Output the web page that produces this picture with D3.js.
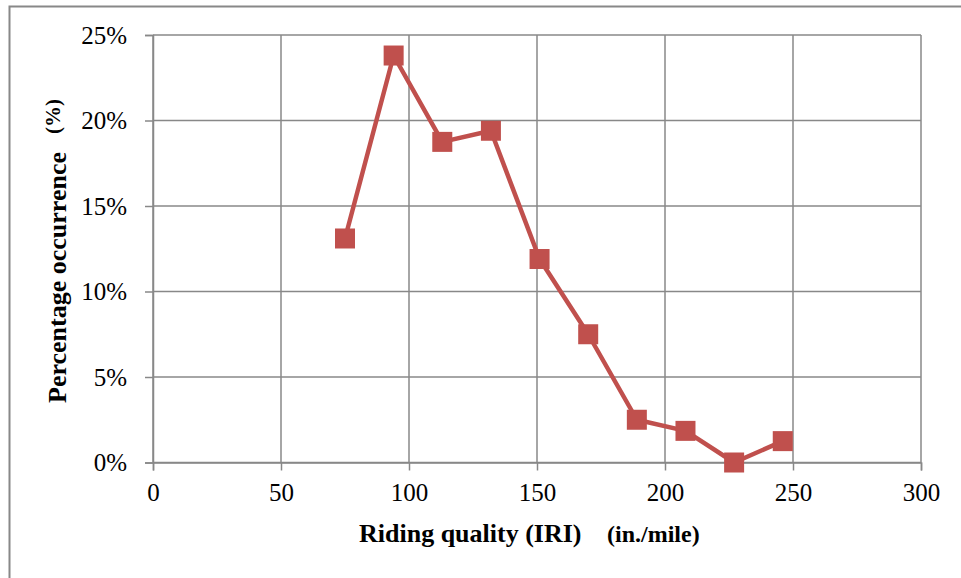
<!DOCTYPE html>
<html>
<head>
<meta charset="utf-8">
<script src="https://cdn.jsdelivr.net/npm/d3@7/dist/d3.min.js"></script>
<style>
  html, body { margin: 0; padding: 0; background: #fff; }
  svg { display: block; }
</style>
</head>
<body>
<svg id="chart" width="961" height="578"></svg>
<script>
// Data
const iri = [75, 94, 113, 132, 151, 170, 189, 208, 227, 246];
const occurrence = [13.1, 23.8, 18.75, 19.4, 11.9, 7.5, 2.5, 1.85, 0, 1.25];
const xTicks = [0, 50, 100, 150, 200, 250, 300];
const yTicks = [0, 5, 10, 15, 20, 25];
const xTitle = "Riding quality (IRI)";
const xUnit = "(in./mile)";
const yTitle = "Percentage occurrence";
const yUnit = "(%)";

(function () {
const svg = d3.select("#chart");
const pLeft = 153, pRight = 921, pTop = 35, pBottom = 462.5;
const serif = "'Liberation Serif', 'Times New Roman', serif";
const gridColor = "#888888";
const seriesColor = "#C0504D";

// outer border (only top/left visible in reference)
svg.append("rect")
  .attr("x", 9.5).attr("y", 6.5)
  .attr("width", 1000).attr("height", 700)
  .attr("fill", "none").attr("stroke", gridColor).attr("stroke-width", 2);

const x = d3.scaleLinear().domain([0, 300]).range([pLeft, pRight]);
const y = d3.scaleLinear().domain([0, 25]).range([pBottom, pTop]);

// gridlines
svg.append("g").selectAll("line").data(yTicks).join("line")
  .attr("x1", pLeft).attr("x2", pRight)
  .attr("y1", d => y(d)).attr("y2", d => y(d))
  .attr("stroke", gridColor).attr("stroke-width", 1.5);
svg.append("g").selectAll("line").data(xTicks).join("line")
  .attr("x1", d => x(d)).attr("x2", d => x(d))
  .attr("y1", pTop).attr("y2", pBottom)
  .attr("stroke", gridColor).attr("stroke-width", 1.5);

// axes
const xAxis = d3.axisBottom(x).tickValues(xTicks).tickSize(8).tickPadding(13).tickFormat(d3.format("d"));
const gx = svg.append("g").attr("transform", `translate(0,${pBottom})`).call(xAxis);
gx.select(".domain").attr("stroke", gridColor).attr("stroke-width", 1.5);
gx.selectAll(".tick line").attr("stroke", gridColor).attr("stroke-width", 1.5);
gx.selectAll(".tick text").attr("font-family", serif).attr("font-size", 25).attr("fill", "#000");

const yAxis = d3.axisLeft(y).tickValues(yTicks).tickSize(8).tickPadding(18).tickFormat(d => d + "%");
const gy = svg.append("g").attr("transform", `translate(${pLeft},0)`).call(yAxis);
gy.select(".domain").attr("stroke", gridColor).attr("stroke-width", 1.5);
gy.selectAll(".tick line").attr("stroke", gridColor).attr("stroke-width", 1.5);
gy.selectAll(".tick text").attr("font-family", serif).attr("font-size", 25).attr("fill", "#000");

// series
const pts = iri.map((v, i) => [v, occurrence[i]]);
svg.append("path")
  .datum(pts)
  .attr("fill", "none")
  .attr("stroke", seriesColor)
  .attr("stroke-width", 4.5)
  .attr("stroke-linejoin", "round")
  .attr("d", d3.line().x(d => x(d[0])).y(d => y(d[1])));
const ms = 20;
svg.append("g").selectAll("rect").data(pts).join("rect")
  .attr("x", d => x(d[0]) - ms / 2).attr("y", d => y(d[1]) - ms / 2)
  .attr("width", ms).attr("height", ms)
  .attr("fill", seriesColor);

// axis titles
svg.append("text")
  .attr("x", 359).attr("y", 542)
  .attr("font-family", serif).attr("font-size", 26).attr("font-weight", "bold")
  .text(xTitle);
svg.append("text")
  .attr("x", 607).attr("y", 542)
  .attr("font-family", serif).attr("font-size", 24).attr("font-weight", "bold")
  .text(xUnit);

svg.append("text")
  .attr("transform", "translate(66,403) rotate(-90)")
  .attr("font-family", serif).attr("font-size", 26).attr("font-weight", "bold")
  .text(yTitle);
svg.append("text")
  .attr("transform", "translate(60,134) rotate(-90)")
  .attr("font-family", serif).attr("font-size", 21).attr("font-weight", "bold")
  .text(yUnit);
})();
</script>
</body>
</html>
